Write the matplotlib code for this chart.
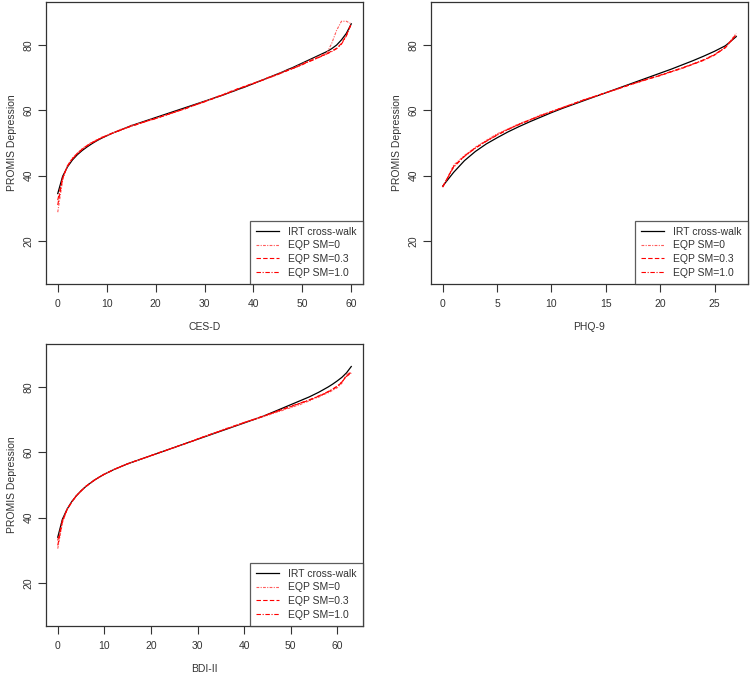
import numpy as np
import matplotlib
matplotlib.use("Agg")
import matplotlib.pyplot as plt

plt.rcParams['font.family'] = ['Liberation Sans', 'DejaVu Sans']

# ---- CES-D (0..60) ----
cesd_x = list(range(0, 61))
cesd_irt = [34.5, 39.8, 42.7, 44.8, 46.4, 47.7, 48.8, 49.8, 50.7, 51.5,
            52.2, 52.9, 53.5, 54.1, 54.7, 55.3, 55.8, 56.3, 56.8, 57.3,
            57.8, 58.3, 58.8, 59.3, 59.8, 60.3, 60.8, 61.3, 61.8, 62.3,
            62.8, 63.3, 63.8, 64.3, 64.8, 65.4, 65.9, 66.5, 67.0, 67.6,
            68.2, 68.8, 69.4, 70.0, 70.6, 71.2, 71.8, 72.5, 73.1, 73.8,
            74.5, 75.2, 75.9, 76.6, 77.3, 78.0, 78.9, 80.0, 81.6, 83.6,
            86.5]
cesd_sm0 = [28.8, 38.6, 43.2, 45.4, 46.9, 48.3, 49.3, 50.3, 51.0, 51.8,
            52.3, 53.0, 53.5, 54.3, 54.6, 55.4, 55.7, 56.2, 56.6, 57.2,
            57.5, 58.1, 58.5, 59.1, 59.5, 60.1, 60.4, 61.1, 61.6, 62.2,
            62.7, 63.3, 63.9, 64.5, 65.0, 65.7, 66.1, 66.8, 67.3, 67.8,
            68.3, 68.9, 69.4, 70.1, 70.5, 71.2, 71.7, 72.4, 72.9, 73.6,
            74.3, 75.0, 75.6, 76.3, 77.0, 77.5, 80.5, 84.5, 87.3, 87.3,
            86.5]
cesd_sm03 = [31.0, 39.2, 43.0, 45.2, 46.8, 48.1, 49.2, 50.1, 50.9, 51.6,
             52.3, 52.9, 53.5, 54.1, 54.6, 55.2, 55.6, 56.1, 56.6, 57.1,
             57.5, 58.0, 58.5, 59.0, 59.5, 60.0, 60.5, 61.1, 61.6, 62.1,
             62.7, 63.2, 63.8, 64.3, 64.9, 65.5, 66.1, 66.7, 67.2, 67.8,
             68.3, 68.8, 69.4, 70.0, 70.5, 71.1, 71.6, 72.3, 72.8, 73.4,
             74.1, 74.8, 75.4, 76.0, 76.7, 77.3, 78.2, 79.0, 80.5, 83.0,
             86.5]
cesd_sm10 = [32.5, 39.5, 42.9, 45.1, 46.7, 48.0, 49.1, 50.0, 50.8, 51.6,
             52.2, 52.9, 53.4, 54.0, 54.6, 55.1, 55.6, 56.1, 56.6, 57.0,
             57.5, 58.0, 58.5, 59.0, 59.5, 60.0, 60.5, 61.0, 61.6, 62.1,
             62.6, 63.2, 63.7, 64.3, 64.8, 65.4, 66.0, 66.6, 67.1, 67.7,
             68.2, 68.8, 69.3, 69.9, 70.4, 71.0, 71.6, 72.2, 72.8, 73.4,
             74.0, 74.7, 75.3, 76.0, 76.6, 77.3, 78.0, 78.9, 80.3, 82.8,
             86.5]

# ---- PHQ-9 (0..27) ----
phq_x = list(range(0, 28))
phq_irt = [36.8, 41.0, 44.6, 47.4, 49.7, 51.6, 53.4, 55.0, 56.5, 57.9,
           59.3, 60.6, 61.8, 63.0, 64.2, 65.4, 66.6, 67.8, 69.0, 70.2,
           71.4, 72.6, 73.9, 75.2, 76.6, 78.1, 79.8, 82.6]
phq_sm0 = [36.4, 43.2, 46.2, 48.7, 50.8, 52.8, 54.3, 55.9, 57.1, 58.6,
           59.6, 60.9, 62.0, 63.3, 64.3, 65.4, 66.4, 67.6, 68.6, 69.7,
           70.6, 71.8, 72.8, 74.1, 75.3, 76.9, 79.3, 83.6]
phq_sm03 = [36.6, 42.8, 46.0, 48.5, 50.6, 52.5, 54.2, 55.7, 57.1, 58.4,
            59.6, 60.8, 62.0, 63.2, 64.3, 65.4, 66.5, 67.6, 68.7, 69.7,
            70.7, 71.8, 72.9, 74.1, 75.4, 77.0, 79.2, 83.3]
phq_sm10 = [36.6, 42.6, 45.9, 48.4, 50.5, 52.4, 54.1, 55.6, 57.0, 58.3,
            59.6, 60.8, 62.0, 63.2, 64.3, 65.4, 66.5, 67.6, 68.7, 69.8,
            70.8, 71.9, 73.0, 74.2, 75.5, 77.1, 79.3, 83.0]

# ---- BDI-II (0..63) ----
bdi_x = list(range(0, 64))
bdi_irt = [34.0, 39.5, 42.6, 44.9, 46.7, 48.2, 49.5, 50.6, 51.6, 52.5,
           53.3, 54.0, 54.7, 55.3, 55.9, 56.5, 57.0, 57.5, 58.0, 58.5,
           59.0, 59.5, 60.0, 60.5, 61.0, 61.5, 62.0, 62.5, 63.0, 63.5,
           64.0, 64.5, 65.0, 65.5, 66.0, 66.5, 67.0, 67.5, 68.0, 68.5,
           69.0, 69.5, 70.0, 70.5, 71.0, 71.6, 72.2, 72.8, 73.4, 74.0,
           74.6, 75.2, 75.8, 76.4, 77.0, 77.7, 78.4, 79.2, 80.0, 80.9,
           81.9, 83.0, 84.4, 86.3]
bdi_sm0 = [30.5, 38.4, 42.6, 44.6, 46.9, 48.0, 49.7, 50.5, 51.8, 52.4,
           53.4, 53.9, 54.8, 55.2, 56.0, 56.4, 57.1, 57.4, 58.1, 58.4,
           59.1, 59.4, 60.1, 60.4, 61.1, 61.4, 62.1, 62.4, 63.1, 63.5,
           64.1, 64.6, 65.1, 65.7, 66.2, 66.7, 67.3, 67.6, 68.2, 68.6,
           69.2, 69.5, 70.1, 70.4, 70.9, 71.3, 71.8, 72.3, 72.7, 73.3,
           73.6, 74.2, 74.6, 75.3, 75.7, 76.5, 76.9, 77.7, 78.2, 79.0,
           79.8, 81.2, 84.0, 84.5]
bdi_sm03 = [31.5, 38.8, 42.4, 44.8, 46.7, 48.2, 49.5, 50.6, 51.6, 52.5,
            53.3, 54.0, 54.7, 55.3, 55.9, 56.5, 57.0, 57.5, 58.0, 58.5,
            59.0, 59.5, 60.0, 60.5, 61.0, 61.5, 62.0, 62.5, 63.0, 63.5,
            64.1, 64.6, 65.1, 65.6, 66.1, 66.6, 67.1, 67.6, 68.1, 68.6,
            69.1, 69.6, 70.0, 70.5, 71.0, 71.5, 72.0, 72.5, 73.0, 73.5,
            74.0, 74.5, 75.0, 75.5, 76.0, 76.6, 77.2, 77.8, 78.5, 79.3,
            80.2, 81.5, 83.5, 84.5]
bdi_sm10 = [33.0, 39.2, 42.5, 44.8, 46.7, 48.2, 49.5, 50.6, 51.6, 52.5,
            53.3, 54.0, 54.7, 55.3, 55.9, 56.5, 57.0, 57.5, 58.0, 58.5,
            59.0, 59.5, 60.0, 60.5, 61.0, 61.5, 62.0, 62.5, 63.0, 63.5,
            64.1, 64.6, 65.1, 65.6, 66.1, 66.6, 67.1, 67.6, 68.1, 68.6,
            69.1, 69.6, 70.1, 70.6, 71.1, 71.6, 72.1, 72.6, 73.1, 73.6,
            74.1, 74.6, 75.1, 75.6, 76.1, 76.7, 77.3, 77.9, 78.6, 79.4,
            80.3, 81.6, 83.3, 84.3]

legend_labels = ['IRT cross-walk', 'EQP SM=0', 'EQP SM=0.3', 'EQP SM=1.0']

fig = plt.figure(figsize=(7.5, 6.8), dpi=100)
# panel boxes in pixels: left, top, right, bottom
boxes = [(46, 2, 363, 284), (431, 2, 748, 284), (46, 344, 363, 626)]
panels = [
    ('CES-D', cesd_x, cesd_irt, cesd_sm0, cesd_sm03, cesd_sm10, [0, 10, 20, 30, 40, 50, 60]),
    ('PHQ-9', phq_x, phq_irt, phq_sm0, phq_sm03, phq_sm10, [0, 5, 10, 15, 20, 25]),
    ('BDI-II', bdi_x, bdi_irt, bdi_sm0, bdi_sm03, bdi_sm10, [0, 10, 20, 30, 40, 50, 60]),
]

for (l, t, r, b), (xlab, x, irt, s0, s3, s1, xt) in zip(boxes, panels):
    ax = fig.add_axes([l / 750, 1 - b / 680, (r - l) / 750, (b - t) / 680])
    ax.plot(x, irt, color='black', lw=0.9, label=legend_labels[0])
    ax.plot(x, s0, color='#ff5a5a', lw=0.8, ls=(0, (2.5, 1.2, 1, 1.2)), label=legend_labels[1])
    ax.plot(x, s3, color='red', lw=0.8, ls=(0, (4, 2)), label=legend_labels[2])
    ax.plot(x, s1, color='red', lw=0.8, ls=(0, (4, 1.5, 1, 1.5)), label=legend_labels[3])
    span = x[-1] - x[0]
    ax.set_xlim(x[0] - 0.04 * span, x[-1] + 0.04 * span)
    ax.set_ylim(6.8, 93.2)
    ax.set_xticks(xt)
    ax.set_yticks([20, 40, 60, 80])
    ax.tick_params(direction='out', length=6, width=0.8, labelsize=7.5,
                   colors='#333333', labelcolor='#333333')
    ax.tick_params(axis='x', pad=5)
    ax.tick_params(axis='y', pad=3)
    for lbl in ax.get_yticklabels():
        lbl.set_rotation(90)
        lbl.set_va('center')
    for s in ax.spines.values():
        s.set_color('#333333')
        s.set_linewidth(0.9)
    ax.set_xlabel(xlab, fontsize=7.5, color='#333333', labelpad=9)
    ax.set_ylabel('PROMIS Depression', fontsize=7.5, color='#333333', labelpad=5)
    leg = ax.legend(loc='lower right', fontsize=7.5, frameon=True, fancybox=False,
                    borderaxespad=0, handlelength=2.2, borderpad=0.6,
                    labelspacing=0.35, handletextpad=0.9)
    leg.get_frame().set_edgecolor('#333333')
    leg.get_frame().set_linewidth(0.9)
    for txt in leg.get_texts():
        txt.set_color('#333333')

fig.savefig('out.png', dpi=100, facecolor='white')
